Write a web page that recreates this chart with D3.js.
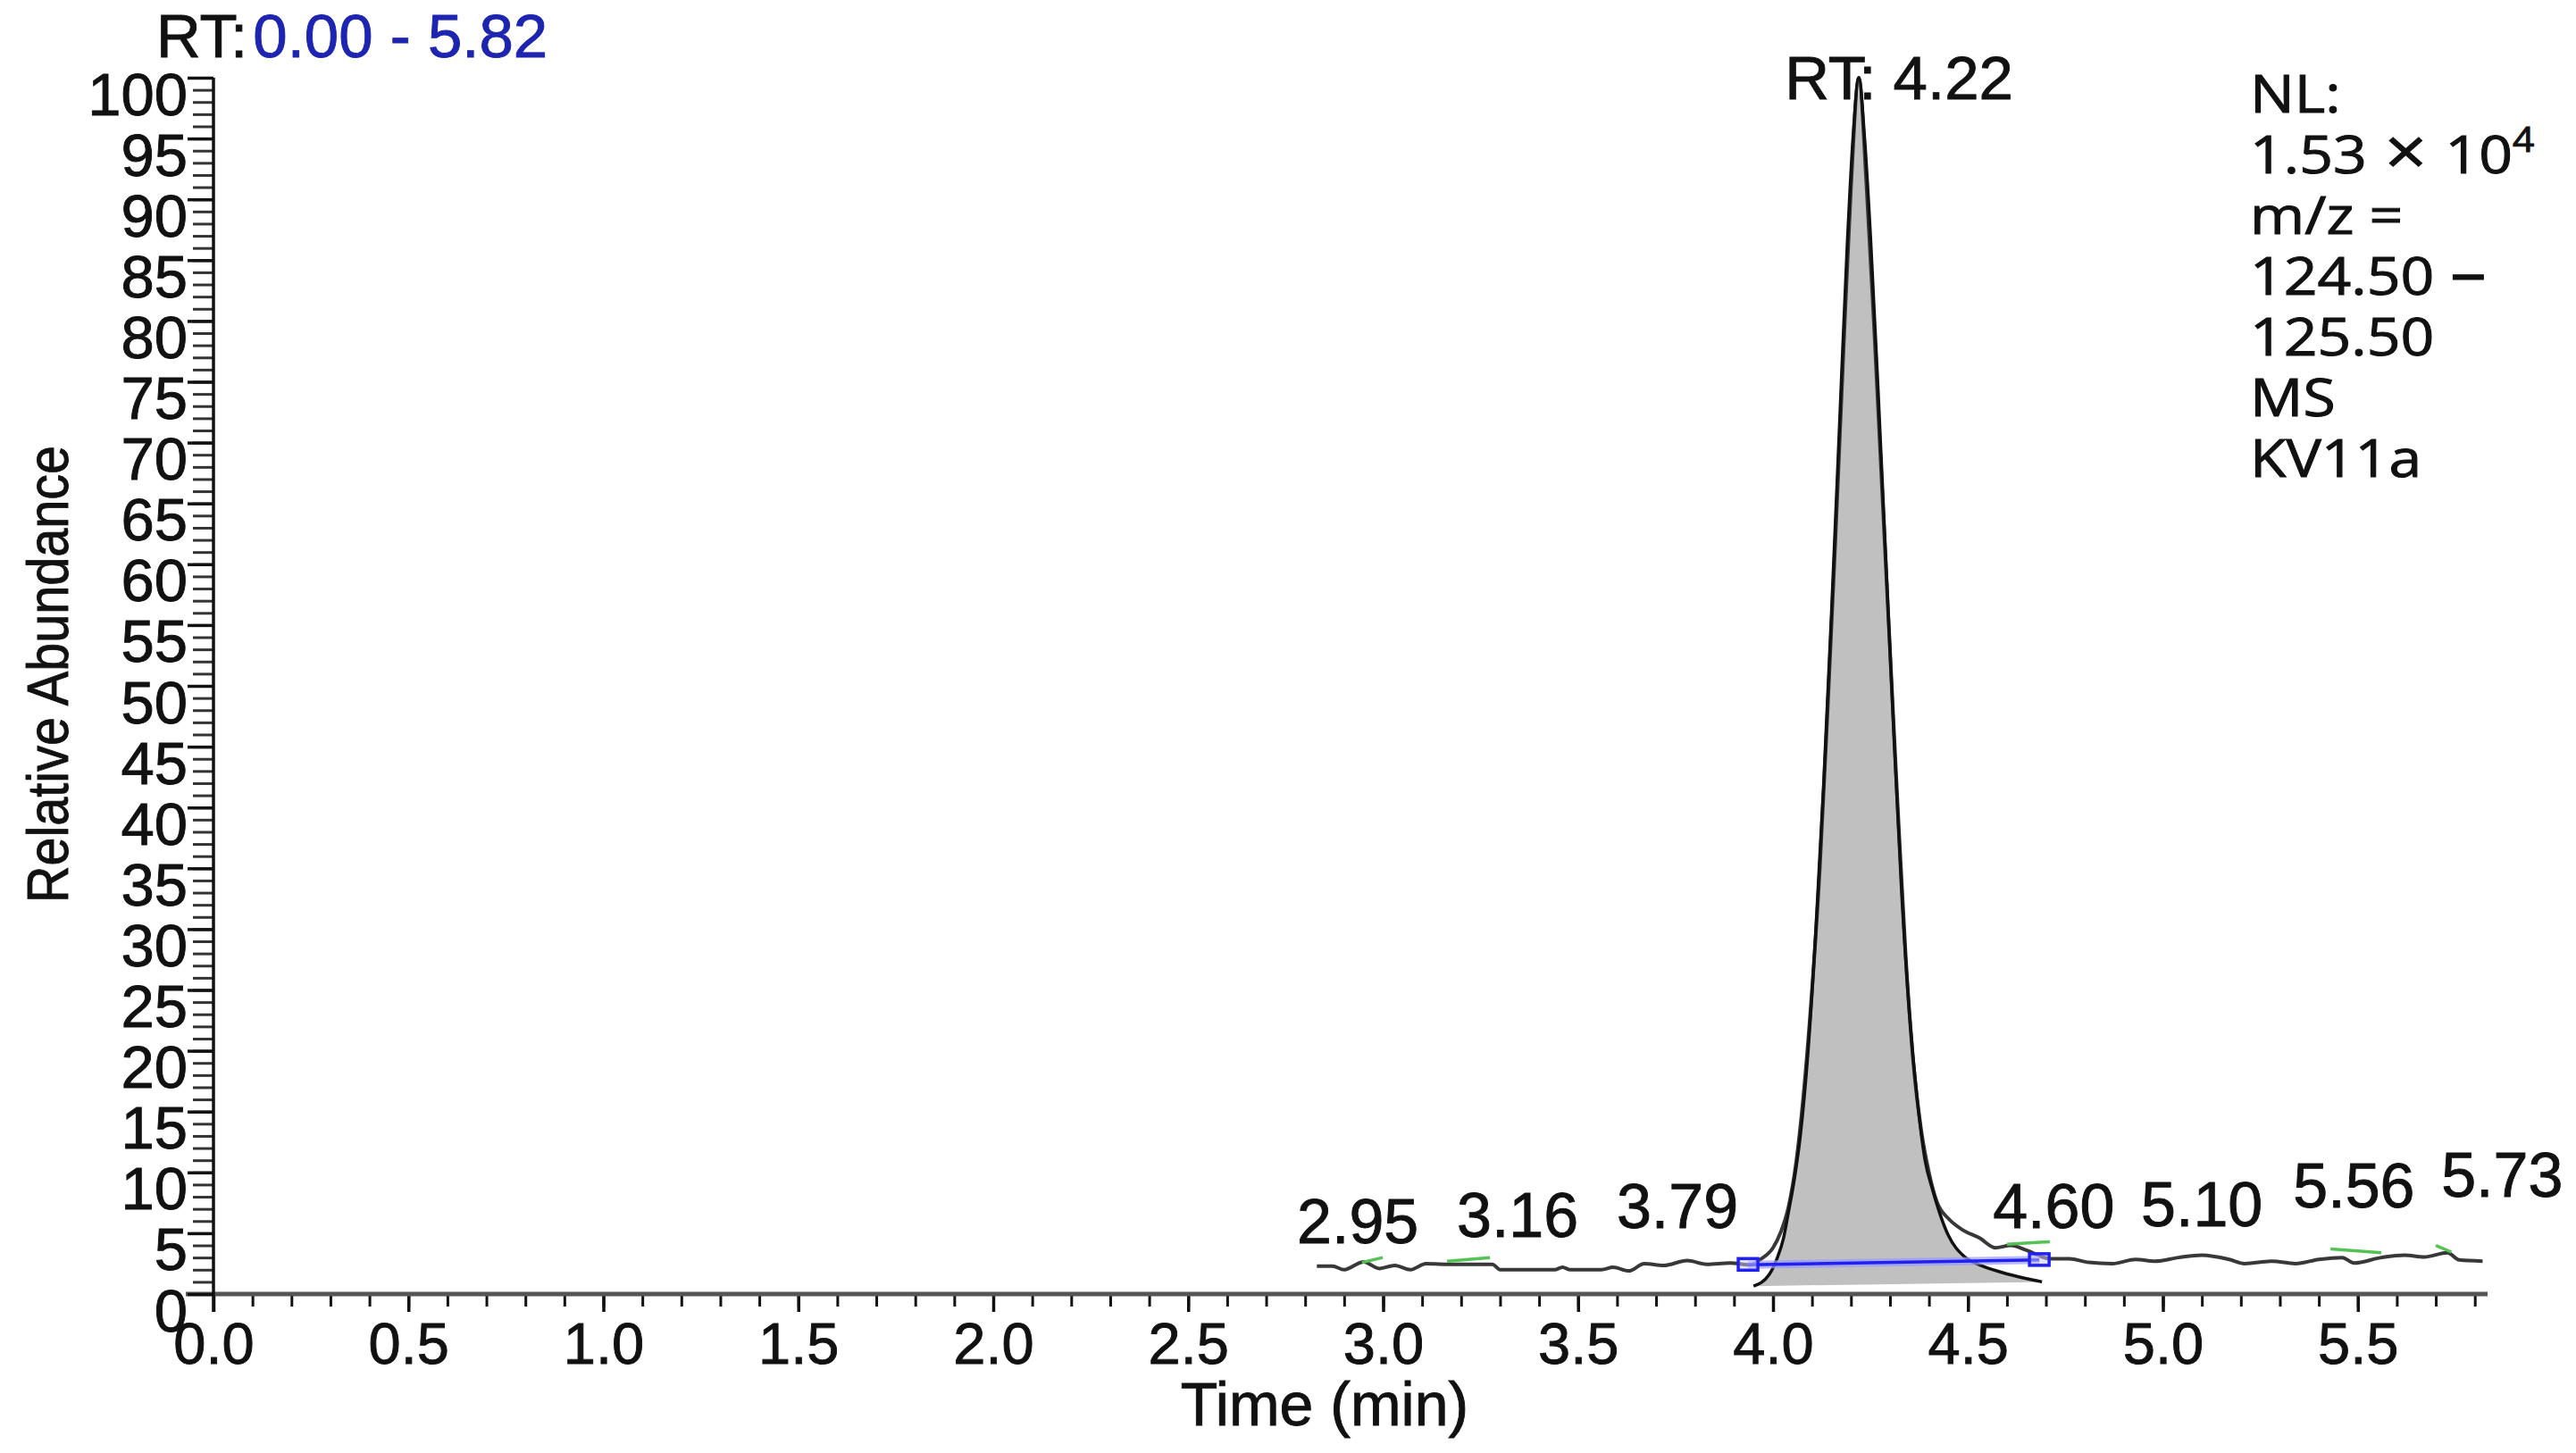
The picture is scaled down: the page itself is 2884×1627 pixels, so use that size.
<!DOCTYPE html>
<html>
<head>
<meta charset="utf-8">
<script src="https://cdn.jsdelivr.net/npm/d3@7"></script>
<style>
  html, body { margin: 0; padding: 0; background: #fff; }
  svg { display: block; }
</style>
</head>
<body>
<svg id="chart" width="2884" height="1627"></svg>
<script>
// ---------------- DATA ----------------
const xTickLabels = ["0.0","0.5","1.0","1.5","2.0","2.5","3.0","3.5","4.0","4.5","5.0","5.5"];
const yTickLabels = ["0","5","10","15","20","25","30","35","40","45","50","55","60","65","70","75","80","85","90","95","100"];

// raw chromatogram trace (time in min, relative abundance %)
const rawTime = [2.83,2.87,2.90,2.95,2.99,3.03,3.07,3.11,3.16,3.28,3.30,3.44,3.46,3.48,3.56,3.59,3.63,3.67,3.72,3.78,3.83,3.89,3.94,3.97,4.00,4.02,4.04,4.06,4.08,4.10,4.12,4.14,4.16,4.18,4.20,4.22,4.24,4.26,4.28,4.30,4.32,4.34,4.36,4.38,4.40,4.42,4.45,4.485,4.53,4.57,4.61,4.65,4.71,4.76,4.81,4.87,4.93,4.98,5.04,5.10,5.17,5.21,5.28,5.34,5.40,5.46,5.49,5.56,5.62,5.67,5.73,5.76,5.82];
const rawAbundance = [2.3,2.3,2.0,2.65,2.1,2.35,2.0,2.5,2.45,2.45,2.0,2.0,2.2,2.0,2.0,2.2,1.9,2.5,2.35,2.75,2.45,2.55,2.4,2.9,3.8,5.1,7.2,11,17,25,35,48,62,77,91,100,91,79,66,53,40,28,19,13.5,10,7.6,6.2,5.3,4.6,3.8,4.0,3.6,2.9,2.9,2.6,2.5,2.85,2.7,3.0,3.2,2.85,2.5,2.7,2.5,2.85,3.0,2.55,3.0,3.2,3.05,3.4,2.8,2.7];

// detected (filled) peak trace
const peakTime = [3.95,3.99,4.01,4.027,4.04,4.055,4.07,4.09,4.11,4.13,4.15,4.17,4.19,4.205,4.22,4.235,4.25,4.27,4.29,4.31,4.33,4.35,4.37,4.39,4.41,4.45,4.49,4.53,4.585,4.645,4.69];
const peakAbundance = [0.65,1.6,2.9,4.6,6.8,9.5,13,20,30,42,56,71,86,95,100,95,87,74,60,46,33,23,16,11,8.5,4.8,3.1,2.4,1.8,1.3,1.0];

// integration baseline (blue)
const integrationTime = [3.936, 4.683];
const integrationAbundance = [2.4, 2.8];

// green noise markers
const noiseStartTime = [2.946, 3.164, 4.60, 5.43, 5.70];
const noiseStartAbund = [2.6, 2.7, 4.1, 3.7, 4.0];
const noiseEndTime = [2.999, 3.274, 4.71, 5.56, 5.74];
const noiseEndAbund = [3.0, 3.0, 4.3, 3.4, 3.45];

// peak labels
const peakLabels = ["2.95","3.16","3.79","4.60","5.10","5.56","5.73"];
const labelTime = [2.935, 3.345, 3.755, 4.72, 5.10, 5.49, 5.87];
const labelAbundance = [4.2, 4.7, 5.4, 5.4, 5.6, 7.1, 8.0];

const apexTime = 4.22;
const apexLabel = "RT: 4.22";
const rangeLabel = "0.00 - 5.82";
const infoLines = ["NL:", "1.53", "m/z =", "124.50", "125.50", "MS", "KV11a"];

// ---------------- LAYOUT ----------------
const svg = d3.select("#chart");
const W = 2884, H = 1627;
svg.append("rect").attr("width", W).attr("height", H).attr("fill", "#fff");

const X0 = 239, PX_PER_MIN = 436.5;
const x = d3.scaleLinear().domain([0, 5.82]).range([X0, X0 + 5.82 * PX_PER_MIN]);
const y = d3.scaleLinear().domain([0, 100]).range([1449, 87]);

const FONT = "'Liberation Sans', Arial, Helvetica, sans-serif";
const INK = "#111";
function heavy(sel) { return sel.attr("stroke", INK).attr("stroke-width", 0.9).attr("paint-order", "stroke"); }

// ---------------- AXES ----------------
const xMinor = svg.append("g").attr("transform", `translate(0,${y(0)})`)
  .call(d3.axisBottom(x).tickValues(d3.range(0, 59).map(i => i / 10)).tickSize(14).tickFormat(""));
xMinor.select(".domain").remove();
xMinor.selectAll("line").attr("stroke", INK).attr("stroke-width", 3);

const xMajor = svg.append("g").attr("transform", `translate(0,${y(0)})`)
  .call(d3.axisBottom(x).tickValues(d3.range(0, 12).map(i => i * 0.5))
    .tickSize(20).tickSizeOuter(0).tickPadding(12)
    .tickFormat((d, i) => xTickLabels[i]));
xMajor.select(".domain").remove();
xMajor.selectAll("line").attr("stroke", INK).attr("stroke-width", 3.5);
heavy(xMajor.selectAll("text").attr("font-family", FONT).attr("font-size", 65).attr("fill", INK));

svg.append("line").attr("x1", 208).attr("x2", 2785).attr("y1", y(0)).attr("y2", y(0))
  .attr("stroke", "#555").attr("stroke-width", 5);

const yMinor = svg.append("g").attr("transform", `translate(${X0},0)`)
  .call(d3.axisLeft(y).tickValues(d3.range(0, 101)).tickSize(23).tickFormat(""));
yMinor.select(".domain").remove();
yMinor.selectAll("line").attr("stroke", "#333").attr("stroke-width", 3);

const yMajor = svg.append("g").attr("transform", `translate(${X0},0)`)
  .call(d3.axisLeft(y).tickValues(d3.range(0, 101, 5)).tickSize(29).tickSizeOuter(0).tickPadding(0)
    .tickFormat((d, i) => yTickLabels[i]));
yMajor.select(".domain").remove();
yMajor.selectAll("line").attr("stroke", INK).attr("stroke-width", 3.5);
heavy(yMajor.selectAll("text").attr("font-family", FONT).attr("font-size", 67).attr("fill", INK)
  .attr("dy", 41));

svg.append("line").attr("x1", X0).attr("x2", X0).attr("y1", y(100)).attr("y2", y(0) + 20)
  .attr("stroke", INK).attr("stroke-width", 3.5);

heavy(svg.append("text").attr("x", x(2.85)).attr("y", 1596).attr("text-anchor", "middle")
  .attr("font-family", FONT).attr("font-size", 68).attr("fill", INK).text("Time (min)"));
heavy(svg.append("text").attr("transform", `translate(76,${755}) rotate(-90)`).attr("text-anchor", "middle")
  .attr("font-family", FONT).attr("font-size", 64).attr("fill", INK)
  .attr("textLength", 512).attr("lengthAdjust", "spacingAndGlyphs").text("Relative Abundance"));

// ---------------- TRACES ----------------
const peakPts = peakTime.map((t, i) => [t, peakAbundance[i]]);
const rawPts = rawTime.map((t, i) => [t, rawAbundance[i]]);

const lineGen = d3.line().x(d => x(d[0])).y(d => y(d[1])).curve(d3.curveMonotoneX);

svg.append("path").attr("d", lineGen(peakPts) + "Z")
  .attr("fill", "#c0c0c0").attr("stroke", "none");

svg.append("path").attr("d", lineGen(rawPts))
  .attr("fill", "none").attr("stroke", "#383838").attr("stroke-width", 4).attr("stroke-linejoin", "round");

svg.append("path").attr("d", lineGen(peakPts))
  .attr("fill", "none").attr("stroke", INK).attr("stroke-width", 3.5).attr("stroke-linejoin", "round");

svg.append("g").selectAll("line").data(noiseStartTime).join("line")
  .attr("x1", (d, i) => x(d)).attr("y1", (d, i) => y(noiseStartAbund[i]))
  .attr("x2", (d, i) => x(noiseEndTime[i])).attr("y2", (d, i) => y(noiseEndAbund[i]))
  .attr("stroke", "#55c255").attr("stroke-width", 3.5);

const intPts = integrationTime.map((t, i) => [t, integrationAbundance[i]]);
svg.append("line").attr("x1", x(intPts[0][0])).attr("y1", y(intPts[0][1]))
  .attr("x2", x(intPts[1][0])).attr("y2", y(intPts[1][1]))
  .attr("stroke", "#9b9bff").attr("stroke-width", 9).attr("opacity", 0.7);
svg.append("line").attr("x1", x(intPts[0][0])).attr("y1", y(intPts[0][1]))
  .attr("x2", x(intPts[1][0])).attr("y2", y(intPts[1][1]))
  .attr("stroke", "#2020f0").attr("stroke-width", 3.5);
svg.append("g").selectAll("rect").data(intPts).join("rect")
  .attr("x", d => x(d[0]) - 11).attr("y", d => y(d[1]) - 7)
  .attr("width", 22).attr("height", 13)
  .attr("fill", "#c8c8ff").attr("fill-opacity", 0.5).attr("stroke", "#2020f0").attr("stroke-width", 3.5);

// ---------------- LABELS ----------------
heavy(svg.append("g").selectAll("text").data(peakLabels).join("text")
  .attr("x", (d, i) => x(labelTime[i])).attr("y", (d, i) => y(labelAbundance[i]))
  .attr("text-anchor", "middle").attr("font-family", FONT).attr("font-size", 70).attr("fill", INK)
  .text(d => d));

heavy(svg.append("text").attr("x", x(apexTime) + 45).attr("y", 111).attr("text-anchor", "middle")
  .attr("font-family", FONT).attr("font-size", 69).attr("fill", INK).text(apexLabel));

const rt = svg.append("text").attr("x", 175).attr("y", 64)
  .attr("font-family", FONT).attr("font-size", 69).attr("stroke-width", 0.9).attr("paint-order", "stroke");
rt.append("tspan").attr("fill", INK).attr("stroke", INK).text("RT:");
rt.append("tspan").attr("fill", "#1c24b0").attr("stroke", "#1c24b0").attr("dx", 6).text(rangeLabel);

// info block
const INFO_FONT = "'Open Sans', 'Noto Sans', sans-serif";
const info = svg.append("g").attr("transform", "translate(2519,0) scale(1.12,1)");
infoLines.forEach((s, i) => {
  const t = info.append("text").attr("x", 0).attr("y", 126 + i * 68)
    .attr("font-family", INFO_FONT).attr("font-size", 59).attr("fill", INK)
    .attr("stroke", INK).attr("stroke-width", 1).attr("paint-order", "stroke").text(s);
  if (i === 1) {
    t.append("tspan").attr("font-size", 74).attr("dx", 18).attr("dy", 2).text("\u00D7");
    t.append("tspan").attr("font-size", 59).attr("dx", 18).attr("dy", -2).text("10");
    t.append("tspan").attr("font-size", 38).attr("dy", -24).text("4");
  }
  if (i === 3) {
    t.append("tspan").attr("font-size", 72).attr("dx", 16).text("\u2013");
  }
});
</script>
</body>
</html>
